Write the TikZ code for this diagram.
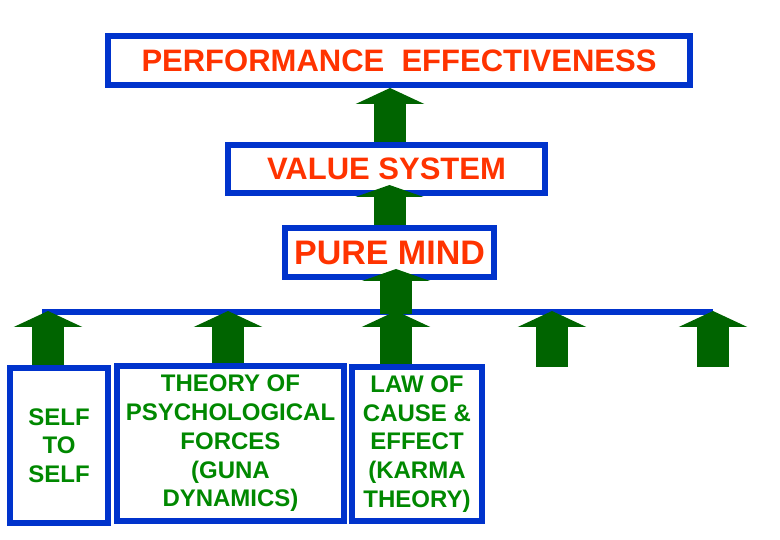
\documentclass[tikz,border=0pt]{standalone}
\usepackage{fontspec}
\setmainfont{Liberation Sans}
\usepackage{xcolor}
\usetikzlibrary{positioning, arrows.meta}

\definecolor{boxblue}{RGB}{0,51,204}
\definecolor{titlered}{RGB}{255,51,0}
\definecolor{textgreen}{RGB}{0,136,0}
\definecolor{arrowgreen}{RGB}{0,100,0}

\begin{document}
\begin{tikzpicture}[
	x=1pt, y=1pt,
	level/.style={rectangle, draw=boxblue, line width=6pt, text=titlered, align=center, font=\bfseries\fontsize{31}{37}\selectfont},
	source/.style={rectangle, draw=boxblue, line width=6pt, text=textgreen, align=center, font=\bfseries\fontsize{24}{28.7}\selectfont},
	bigarrow/.style={draw=arrowgreen, line width=32pt, -{Triangle[width=68pt, length=#1]}},
	bigarrow/.default=16pt,
	bar/.style={draw=boxblue, line width=6pt}
	]
	\useasboundingbox (0,0) rectangle (780,-540);

	% Levels
	\node[level, minimum width=582pt, minimum height=49pt] (perf) at (399,-60.5) {PERFORMANCE~~EFFECTIVENESS};
	\node[level, minimum width=317pt, minimum height=48pt, below=54pt of perf, xshift=-12.5pt] (value) {VALUE SYSTEM};
	\node[level, minimum width=209pt, minimum height=49pt, below=29pt of value, xshift=3pt, font=\bfseries\fontsize{34}{40}\selectfont] (mind) {PURE MIND};

	% Sources
	\node[source, minimum width=98pt, minimum height=155pt] (self) at (59,-445.5) {SELF\\TO\\SELF};
	\node[source, minimum width=227pt, minimum height=155pt, right=3pt of self, yshift=2pt] (theory) {THEORY OF\\PSYCHOLOGICAL\\FORCES\\(GUNA\\DYNAMICS)};
	\node[source, minimum width=130pt, minimum height=154pt, right=2pt of theory, yshift=-0.5pt] (law) {LAW OF\\CAUSE \&\\EFFECT\\(KARMA\\THEORY)};

	% Bar
	\coordinate (barL) at (42,-312);
	\coordinate (barR) at (713,-312);
	\coordinate (footD) at (552,-367);
	\coordinate (footE) at (713,-367);
	\draw[bar] (barL) -- (barR);

	% Arrows
	\draw[bigarrow] ([xshift=3.5pt]value.north) -- ([xshift=3.5pt]value.north |- perf.south);
	\draw[bigarrow=12pt] (mind.north) -- ([yshift=11pt]mind.north |- value.south);
	\draw[bigarrow=12pt] ([xshift=6.5pt,yshift=-2pt]mind.south |- barL) -- ([xshift=6.5pt,yshift=11pt]mind.south);

	\draw[bigarrow] ([xshift=-11pt]self.north) -- ([xshift=-11pt,yshift=1pt]self.north |- barL);
	\draw[bigarrow] ([xshift=-2.5pt]theory.north) -- ([xshift=-2.5pt,yshift=1pt]theory.north |- barL);
	\draw[bigarrow] ([xshift=-21pt]law.north) -- ([xshift=-21pt,yshift=1pt]law.north |- barL);
	\draw[bigarrow] (footD) -- ([yshift=1pt]footD |- barL);
	\draw[bigarrow] (footE) -- ([yshift=1pt]barR);

\end{tikzpicture}
\end{document}
